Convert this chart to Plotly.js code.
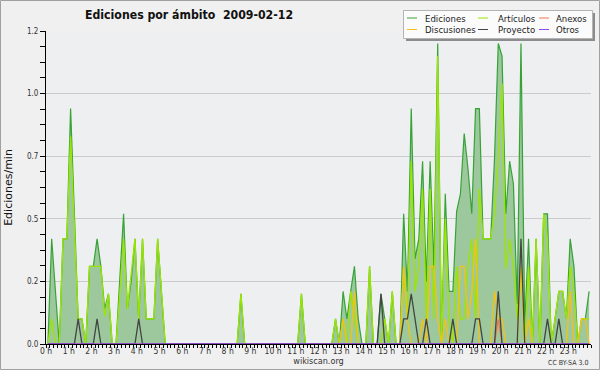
<!DOCTYPE html>
<html><head><meta charset="utf-8">
<script src="https://cdn.plot.ly/plotly-3.0.1.min.js"></script>
<style>html,body{margin:0;padding:0;background:#f0f0f0}</style>
</head><body><div id="chart" style="width:600px;height:370px"></div>
<script>
// edits per minute, 10-minute bins (6 per hour, 24 rows)
const ediciones = [
 0,0.42,0.21,0,0.42,0.42,
 0.94,0.52,0.1,0.1,0,0.31,
 0.31,0.42,0.31,0.14,0.2,0,
 0,0.26,0.52,0.14,0.25,0.42,
 0.1,0.42,0.1,0.1,0.1,0.42,
 0.2,0,0,0,0,0,
 0,0,0,0,0,0,
 0,0,0,0,0,0,
 0,0,0,0.2,0,0,
 0,0,0,0,0,0,
 0,0,0,0,0,0,
 0,0.2,0,0,0,0,
 0,0,0,0,0.1,0,
 0.21,0.1,0.21,0.31,0.1,0,
 0,0.31,0,0,0.2,0.1,
 0,0.21,0,0,0.52,0.21,
 0.94,0.34,0.42,0.73,0.25,0.73,
 0.3,1.2,0,0.6,0.21,0.21,
 0.53,0.6,0.84,0.7,0.52,0.94,
 0.94,0.42,0.42,0.42,0.74,1.2,
 1.15,0.52,0.73,0.64,0.16,1.2,
 0.08,0.42,0,0.42,0,0.52,
 0.52,0,0.1,0.21,0.21,0.1,
 0.42,0.31,0,0.1,0.1,0.21
];
const articulos = [
 0,0.1,0,0,0.42,0.42,
 0.83,0.45,0.1,0.1,0,0.31,
 0.31,0.31,0.31,0.11,0.2,0,
 0,0.2,0.42,0.14,0.28,0.42,
 0.1,0.42,0.1,0.1,0.1,0.42,
 0.2,0,0,0,0,0,
 0,0,0,0,0,0,
 0,0,0,0,0,0,
 0,0,0,0.2,0,0,
 0,0,0,0,0,0,
 0,0,0,0,0,0,
 0,0.2,0,0,0,0,
 0,0,0,0,0.1,0,
 0.1,0,0.21,0.1,0,0,
 0,0.31,0,0,0,0.1,
 0,0.21,0,0,0.31,0.1,
 0.73,0.21,0.31,0.62,0.1,0.62,
 0.1,1.15,0,0.5,0.1,0,
 0.31,0.1,0.1,0.31,0.42,0.1,
 0.62,0.42,0.42,0.42,0.52,0.74,
 1.04,0.3,0.42,0.31,0.1,0.3,
 0,0.31,0,0.42,0,0.52,
 0.42,0,0.1,0.21,0.21,0.1,
 0.31,0.21,0,0.1,0.1,0.1
];
const discusiones = [
 0,0,0,0,0,0, 0,0,0,0,0,0, 0,0,0,0,0,0, 0,0,0,0,0,0,
 0,0,0,0,0,0, 0,0,0,0,0,0, 0,0,0,0,0,0, 0,0,0,0,0,0,
 0,0,0,0,0,0, 0,0,0,0,0,0, 0,0,0,0,0,0, 0,0,0,0,0,0,
 0,0,0,0,0,0,
 0.1,0,0,0.21,0,0,
 0,0,0,0,0,0,
 0,0,0,0,0.31,0.1,
 0,0,0,0.1,0,0.31,
 0.31,0.1,0,0.1,0,0,
 0,0.31,0.31,0.1,0.2,0.42,
 0,0,0,0,0.21,0.1,
 0.1,0,0,0,0,0.31,
 0,0.1,0,0,0,0,
 0,0,0,0,0,0,
 0.21,0,0,0.1,0.1,0
];
const proyecto = [
 0,0,0,0,0,0,
 0,0,0.1,0,0,0,
 0,0.1,0,0,0,0,
 0,0,0,0,0,0,
 0.1,0,0,0,0,0,
 0,0,0,0,0,0, 0,0,0,0,0,0, 0,0,0,0,0,0, 0,0,0,0,0,0,
 0,0,0,0,0,0, 0,0,0,0,0,0, 0,0,0,0,0,0, 0,0,0,0,0,0,
 0,0,0,0,0,0,
 0,0,0,0,0.2,0,
 0,0,0,0,0.1,0.1,
 0.2,0.1,0,0,0.1,0,
 0,0,0,0,0,0.1,
 0,0,0,0,0,0.1,
 0.1,0,0,0,0,0.21,
 0,0,0,0,0,0.42,
 0,0,0,0,0,0,
 0.1,0,0,0.1,0,0,
 0,0,0,0,0,0
];
const anexos = [
 0,0,0,0,0,0, 0,0,0,0,0,0, 0,0,0,0,0,0, 0,0,0,0,0,0,
 0,0,0,0,0,0, 0,0,0,0,0,0, 0,0,0,0,0,0, 0,0,0,0,0,0,
 0,0,0,0,0,0, 0,0,0,0,0,0, 0,0,0,0,0,0, 0,0,0,0,0,0,
 0,0,0,0,0,0, 0,0,0,0,0,0, 0,0,0,0,0,0, 0,0,0,0,0,0,
 0,0,0,0,0,0, 0,0,0,0,0,0, 0,0,0,0,0,0, 0,0,0,0,0,0.1,
 0,0,0,0,0,0, 0,0,0,0,0,0, 0,0,0,0,0,0, 0,0,0,0,0,0
];
const otros = [
 0,0,0,0,0,0, 0,0,0,0,0,0, 0,0,0,0,0,0, 0,0,0,0,0,0,
 0,0,0,0,0,0, 0,0,0,0,0,0, 0,0,0,0,0,0, 0,0,0,0,0,0,
 0,0,0,0,0,0, 0,0,0,0,0,0, 0,0,0,0,0,0, 0,0,0,0,0,0,
 0,0,0,0,0,0, 0,0,0,0,0,0, 0,0,0,0,0,0, 0,0,0,0,0,0,
 0,0,0,0,0,0, 0,0,0,0,0,0, 0,0,0,0,0,0, 0,0,0,0,0,0,
 0,0,0,0,0,0, 0,0,0,0,0,0, 0,0,0,0,0,0, 0,0,0,0,0,0
];
const hourLabels = ['0 h','1 h','2 h','3 h','4 h','5 h','6 h','7 h','8 h','9 h','10 h','11 h',
 '12 h','13 h','14 h','15 h','16 h','17 h','18 h','19 h','20 h','21 h','22 h','23 h'];
const hourTicks = [0,1,2,3,4,5,6,7,8,9,10,11,12,13,14,15,16,17,18,19,20,21,22,23];
const yTickVals = [0,0.25,0.5,0.75,1.0,1.25];
const yTickText = ['0.0','0.2','0.5','0.7','1.0','1.2'];
const seriesNames = ['Ediciones','Artículos','Anexos','Discusiones','Proyecto','Otros'];
const seriesColors = ['#36a336','#9be600','#f07848','#f3c214','#444444','#9448ee'];

const binHours = ediciones.map((_, i) => (i * 10 + 5) / 60);

const W = 600, H = 370, M = {l:46, r:9, t:31, b:26};
const pw = W - M.l - M.r, ph = H - M.t - M.b;
const PX = x => (x - M.l) / pw;
const PY = y => (M.t + ph - y) / ph;
const FONT = 'DejaVu Sans Condensed, DejaVu Sans, sans-serif';

const seriesData = [ediciones, articulos, anexos, discusiones, proyecto, otros];
const traces = seriesData.map((ys, k) => ({
  type: 'scatter', mode: 'lines', x: binHours, y: ys, name: seriesNames[k],
  line: {color: seriesColors[k], width: k === 0 ? 1.2 : 1.3},
  fill: k === 0 ? 'tozeroy' : 'none',
  fillcolor: '#9dc89d', showlegend: false, hoverinfo: 'skip'
}));

// manual compact legend (3 columns x 2 rows)
const legendCols = [407, 478, 539], legendText = [424, 497, 555], legendRows = [18, 29.5];
const legendOrder = [[0, 3], [1, 4], [2, 5]];
const shapes = [
  {type:'rect', xref:'paper', yref:'paper', x0:PX(0.5), x1:PX(599.5), y0:PY(369.5), y1:PY(0.5),
   line:{color:'#a0a0a0', width:1}, fillcolor:'rgba(0,0,0,0)', layer:'above'},
  {type:'rect', xref:'paper', yref:'paper', x0:PX(406), x1:PX(595), y0:PY(41), y1:PY(13),
   line:{width:0}, fillcolor:'#8c8c8c', layer:'above'},
  {type:'rect', xref:'paper', yref:'paper', x0:PX(403.5), x1:PX(592.5), y0:PY(38.5), y1:PY(10.5),
   line:{color:'#b4b4b4', width:1}, fillcolor:'#fbfbfb', layer:'above'}
];
const annotations = [];
legendOrder.forEach((col, c) => col.forEach((k, r) => {
  shapes.push({type:'line', xref:'paper', yref:'paper', x0:PX(legendCols[c]), x1:PX(legendCols[c] + 10),
    y0:PY(legendRows[r]), y1:PY(legendRows[r]), line:{color:seriesColors[k], width:1}, layer:'above'});
  annotations.push({xref:'paper', yref:'paper', x:PX(legendText[c]), y:PY(legendRows[r]),
    xanchor:'left', yanchor:'middle', showarrow:false, text:seriesNames[k], borderpad:0,
    font:{family:FONT, size:9.5, color:'#222'}});
}));
annotations.push({xref:'paper', yref:'paper', x:PX(590), y:PY(363), xanchor:'right', yanchor:'middle',
  showarrow:false, text:'CC BY-SA 3.0', font:{family:FONT, size:7, color:'#333'}});

const layout = {
  width: W, height: H, margin: M,
  paper_bgcolor: '#f0f0f0', plot_bgcolor: '#eeeff1',
  title: {text: 'Ediciones por ámbito\u00a0\u00a02009-02-12', x: 85 / W, xanchor: 'left', xref: 'container',
          y: 1 - 15 / H, yanchor: 'middle', yref: 'container',
          font: {family: FONT, size: 12.2, weight: 'bold', color: '#111'}},
  xaxis: {range: [0, 24], tickvals: hourTicks, ticktext: hourLabels, showgrid: false, zeroline: false,
          showline: true, linecolor: '#000', linewidth: 1, ticks: 'outside', ticklen: 3, tickcolor: '#000',
          ticklabelstandoff: -4,
          tickfont: {family: FONT, size: 8.5, color: '#333'},
          minor: {tickmode: 'linear', tick0: 0, dtick: 1/6, ticks: 'outside', ticklen: 3, tickcolor: '#000', showgrid: false},
          title: {text: 'wikiscan.org', standoff: 1, font: {family: FONT, size: 9, color: '#333'}},
          automargin: false, fixedrange: true},
  yaxis: {range: [0, 1.25], tickvals: yTickVals, ticktext: yTickText, showgrid: true, gridcolor: '#cbcbcb',
          gridwidth: 1, zeroline: false, showline: true, linecolor: '#000', linewidth: 1,
          ticks: 'outside', ticklen: 5, tickcolor: '#000',
          tickfont: {family: FONT, size: 8, color: '#333'},
          minor: {tickmode: 'linear', tick0: 0, dtick: 0.0625, ticks: 'outside', ticklen: 5, tickcolor: '#000', showgrid: false},
          title: {text: 'Ediciones/min', standoff: 12, font: {family: 'DejaVu Sans, sans-serif', size: 11, color: '#111'}},
          automargin: false, fixedrange: true},
  shapes: shapes, annotations: annotations, showlegend: false
};
Plotly.newPlot('chart', traces, layout, {staticPlot: true, displayModeBar: false});
</script></body></html>
